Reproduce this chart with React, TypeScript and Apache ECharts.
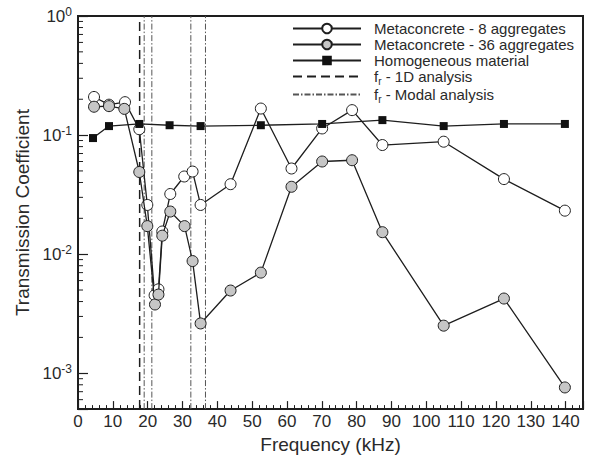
import React, { useEffect, useRef } from "react";
import * as echarts from "echarts";

// ---- data ----
const freq8 = [4.6, 8.9, 13.5, 17.6, 19.9, 22.0, 23.1, 24.2, 26.5, 30.5, 32.9, 35.2, 43.8, 52.5, 61.3, 70.1, 78.7, 87.4, 105.0, 122.3, 139.8];
const trans8 = [0.209, 0.18, 0.189, 0.112, 0.0259, 0.00452, 0.00507, 0.0155, 0.032, 0.0449, 0.0494, 0.0259, 0.0387, 0.167, 0.0524, 0.1137, 0.162, 0.0825, 0.088, 0.0427, 0.0232];

const freq36 = [4.6, 8.9, 13.3, 17.6, 19.9, 22.1, 23.1, 24.2, 26.5, 30.6, 32.9, 35.2, 43.8, 52.5, 61.3, 70.1, 78.7, 87.4, 105.0, 122.3, 139.8];
const trans36 = [0.173, 0.175, 0.166, 0.049, 0.0172, 0.00378, 0.00458, 0.0143, 0.0228, 0.0172, 0.00875, 0.00262, 0.00495, 0.007, 0.0368, 0.06, 0.0615, 0.0153, 0.00251, 0.00424, 0.00076];

const freqHom = [4.3, 8.9, 17.6, 26.3, 35.2, 52.5, 70.1, 87.4, 105.0, 122.3, 139.8];
const transHom = [0.0944, 0.119, 0.124, 0.121, 0.119, 0.121, 0.124, 0.1336, 0.119, 0.124, 0.124];

const fr1D = [17.7];
const frModal = [19.0, 21.2, 32.4, 36.6];

const xMin = 0;
const xMax = 145;
const yMin = 5e-4;
const yMax = 1;
const minorMultipliers = [2, 3, 4, 5, 6, 7, 8, 9];
const minorDecades = [1e-4, 1e-3, 1e-2, 1e-1];

const NAME8 = "Metaconcrete - 8 aggregates";
const NAME36 = "Metaconcrete - 36 aggregates";
const NAMEH = "Homogeneous material";
const NAME1D = "fr - 1D analysis";
const NAMEMODAL = "fr - Modal analysis";

const INK = "#1e1e1e";
const TEXT = "#2a2a2a";
const FONT = "'Liberation Sans', Arial, Helvetica, sans-serif";

export default function App() {
  const ref = useRef<HTMLDivElement>(null);

  useEffect(() => {
    if (!ref.current) return;
    const chart = echarts.init(ref.current, undefined, { renderer: "svg" });

    const minorVals: number[] = [];
    minorDecades.forEach((d) =>
      minorMultipliers.forEach((m) => {
        const v = m * d;
        if (v > yMin && v < yMax) minorVals.push(v);
      })
    );

    const pair = (xs: number[], ys: number[]) => xs.map((x, i) => [x, ys[i]]);

    const vLine = (name: string, f: number, type: any, color: string, width: number) => ({
      name,
      type: "line",
      data: [
        [f, yMin],
        [f, yMax],
      ],
      symbol: "none",
      lineStyle: { color, width, type },
      itemStyle: { color },
      z: 1,
      silent: true,
    });

    const series: any[] = [
      ...fr1D.map((f) => vLine(NAME1D, f, [9, 5], INK, 1.5)),
      ...frModal.map((f) => vLine(NAMEMODAL, f, [6, 2, 1.5, 2], "#555", 1)),
      {
        name: NAME8,
        type: "line",
        data: pair(freq8, trans8),
        symbol: "circle",
        symbolSize: 11,
        lineStyle: { color: INK, width: 1.3 },
        itemStyle: { color: "#ffffff", borderColor: INK, borderWidth: 1 },
        z: 3,
      },
      {
        name: NAME36,
        type: "line",
        data: pair(freq36, trans36),
        symbol: "circle",
        symbolSize: 11,
        lineStyle: { color: INK, width: 1.3 },
        itemStyle: { color: "#c6c6c6", borderColor: INK, borderWidth: 1 },
        z: 4,
      },
      {
        name: NAMEH,
        type: "line",
        data: pair(freqHom, transHom),
        symbol: "rect",
        symbolSize: 8,
        lineStyle: { color: INK, width: 1.3 },
        itemStyle: { color: "#111111", borderColor: "#111111", borderWidth: 0 },
        z: 5,
      },
      {
        name: "minorTicks",
        type: "custom",
        silent: true,
        data: minorVals.map((v) => [xMin, v]),
        renderItem: (_params: any, api: any) => {
          const p = api.coord([api.value(0), api.value(1)]);
          return {
            type: "line",
            shape: { x1: p[0], y1: p[1], x2: p[0] + 5, y2: p[1] },
            style: { stroke: INK, lineWidth: 1 },
          };
        },
        z: 6,
      },
    ];

    const richLegend = {
      n: { fontSize: 15, fontFamily: FONT, color: TEXT, lineHeight: 15 },
      s: { fontSize: 10, fontFamily: FONT, color: TEXT, verticalAlign: "bottom", lineHeight: 19 },
    };

    chart.setOption({
      animation: false,
      backgroundColor: "#ffffff",
      textStyle: { fontFamily: FONT },
      grid: {
        left: 78,
        top: 16,
        right: 11,
        bottom: 49,
        show: true,
        borderColor: INK,
        borderWidth: 2,
        backgroundColor: "transparent",
      },
      legend: {
        data: [
          NAME8,
          NAME36,
          NAMEH,
          { name: NAME1D, itemStyle: { opacity: 0 } },
          { name: NAMEMODAL, itemStyle: { opacity: 0 } },
        ],
        orient: "vertical",
        left: 292,
        top: 21,
        padding: 0,
        itemWidth: 68,
        itemHeight: 12,
        itemGap: 1,
        selectedMode: false,
        textStyle: {
          fontSize: 15,
          fontFamily: FONT,
          color: TEXT,
          padding: [0, 0, 0, 8],
          rich: richLegend,
        },
        formatter: (name: string) => {
          if (name.startsWith("fr")) return `{n|f}{s|r}{n|${name.slice(2)}}`;
          return `{n|${name}}`;
        },
      },
      xAxis: {
        type: "value",
        min: xMin,
        max: xMax,
        interval: 10,
        name: "Frequency (kHz)",
        nameLocation: "middle",
        nameGap: 22,
        nameTextStyle: { fontSize: 19, color: TEXT, fontFamily: FONT },
        axisLine: { show: true, lineStyle: { color: INK, width: 2 } },
        axisTick: { show: true, inside: true, length: 8, lineStyle: { color: INK, width: 1.2 } },
        minorTick: { show: true, splitNumber: 5, length: 4, lineStyle: { color: INK, width: 1 } },
        axisLabel: {
          fontSize: 17,
          color: TEXT,
          margin: 4,
          showMaxLabel: false,
          fontFamily: FONT,
        },
        splitLine: { show: false },
      },
      yAxis: {
        type: "log",
        logBase: 10,
        min: yMin,
        max: yMax,
        name: "Transmission Coefficient",
        nameLocation: "middle",
        nameGap: 42,
        nameTextStyle: { fontSize: 19, color: TEXT, fontFamily: FONT },
        axisLine: { show: true, lineStyle: { color: INK, width: 2 } },
        axisTick: { show: true, inside: true, length: 10, lineStyle: { color: INK, width: 1.2 } },
        axisLabel: {
          margin: 6,
          color: TEXT,
          formatter: (v: number) => {
            const e = Math.log10(v);
            const r = Math.round(e);
            if (Math.abs(e - r) > 1e-6) return "";
            return `{b|10}{s|${r}}`;
          },
          rich: {
            b: { fontSize: 17, fontFamily: FONT, color: TEXT, lineHeight: 21 },
            s: { fontSize: 12, fontFamily: FONT, color: TEXT, verticalAlign: "top", lineHeight: 12 },
          },
        },
        splitLine: { show: false },
      },
      series,
    });

    return () => chart.dispose();
  }, []);

  return (
    <div
      ref={ref}
      style={{ position: "absolute", left: 0, top: 0, width: 594, height: 459, background: "#fff" }}
    />
  );
}
